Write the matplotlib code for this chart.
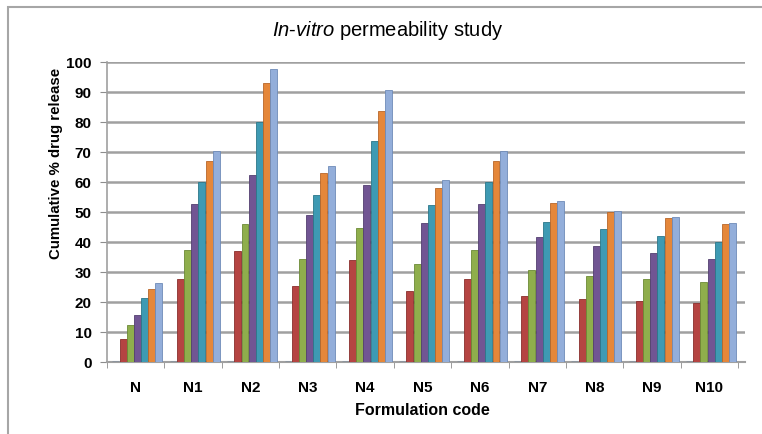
import matplotlib
matplotlib.use("Agg")
import matplotlib.pyplot as plt
import numpy as np
from matplotlib.patches import Rectangle

plt.rcParams['font.family'] = ['Liberation Sans', 'DejaVu Sans']
plt.rcParams['mathtext.fontset'] = 'custom'
plt.rcParams['mathtext.it'] = 'Liberation Sans:italic'
plt.rcParams['mathtext.rm'] = 'Liberation Sans'

categories = ["N", "N1", "N2", "N3", "N4", "N5", "N6", "N7", "N8", "N9", "N10"]
s0 = [0, 0, 0, 0, 0, 0, 0, 0, 0, 0, 0]
s1 = [7.6, 27.6, 37.0, 25.3, 33.9, 23.6, 27.6, 22.0, 20.9, 20.4, 19.8]
s2 = [12.2, 37.2, 46.1, 34.4, 44.7, 32.7, 37.2, 30.6, 28.6, 27.7, 26.7]
s3 = [15.6, 52.8, 62.4, 48.9, 58.9, 46.3, 52.8, 41.7, 38.7, 36.3, 34.2]
s4 = [21.3, 60.0, 80.0, 55.6, 73.7, 52.2, 60.0, 46.6, 44.4, 42.0, 39.9]
s5 = [24.4, 67.0, 93.1, 63.0, 83.7, 58.0, 66.9, 53.1, 50.1, 48.1, 46.1]
s6 = [26.4, 70.2, 97.6, 65.2, 90.6, 60.8, 70.2, 53.6, 50.4, 48.4, 46.4]
series = [s0, s1, s2, s3, s4, s5, s6]
colors = ["#4F81BD", "#B54442", "#8FAE4C", "#715593", "#3E9AB3", "#E5873A", "#93AEDA"]
edges = ["#3A6494", "#8A2F2D", "#6C8A35", "#533F70", "#2C7789", "#B8662A", "#6F8BB8"]
yticks = [0, 10, 20, 30, 40, 50, 60, 70, 80, 90, 100]

W, H = 762, 435
fig = plt.figure(figsize=(W/100, H/100), dpi=100)
fig.patches.append(Rectangle((8/W, -0.1), 1.2, (H-8)/H + 0.1, transform=fig.transFigure,
                             fill=False, edgecolor="#A6A6A6", linewidth=1.5))

ax = fig.add_axes([107/W, (H-363)/H, (745-107)/W, 300/H])
x = np.arange(len(categories))
n = len(series)
bw = 0.125
for i, (vals, c, ec) in enumerate(zip(series, colors, edges)):
    ax.bar(x + 0.03 + (i - (n-1)/2) * bw, vals, width=bw*0.97, color=c, edgecolor=ec,
           linewidth=1.0 if i == 0 else 0.6, zorder=3)

ax.set_xlim(-0.5, 10.62)
ax.set_ylim(0, 100)
ax.set_yticks(yticks)
ax.set_yticklabels([str(v) for v in yticks], fontsize=11, fontweight='bold')
ax.set_xticks(x)
ax.set_xticklabels(categories, fontsize=11, fontweight='bold')
ax.tick_params(axis='x', length=0, pad=13)
ax.set_xticks(np.arange(-0.5, 11, 1), minor=True)
ax.tick_params(axis='x', which='minor', length=4, color="#8C8C8C", direction='out')
ax.tick_params(axis='y', length=5, color="#8C8C8C", pad=6)
ax.grid(axis='y', color="#A0A0A0", linewidth=1.8, zorder=0)
for side in ['top', 'right']:
    ax.spines[side].set_visible(False)
ax.spines['left'].set_color("#A0A0A0")
ax.spines['bottom'].set_color("#A0A0A0")
ax.spines['left'].set_linewidth(1.2)
ax.spines['bottom'].set_linewidth(1.5)

fig.text(388/W, 1 - 30/H, r"$\mathit{In}$-$\mathit{vitro}$ permeability study",
         ha='center', va='center', fontsize=14.5)
fig.text(56/W, 1 - 163/H, "Cumulative % drug release", rotation=90,
         ha='center', va='center', fontsize=10.8, fontweight='bold')
fig.text(422/W, 1 - 411/H, "Formulation code", ha='center', va='center',
         fontsize=11.5, fontweight='bold')

fig.savefig("out.png", dpi=100)
